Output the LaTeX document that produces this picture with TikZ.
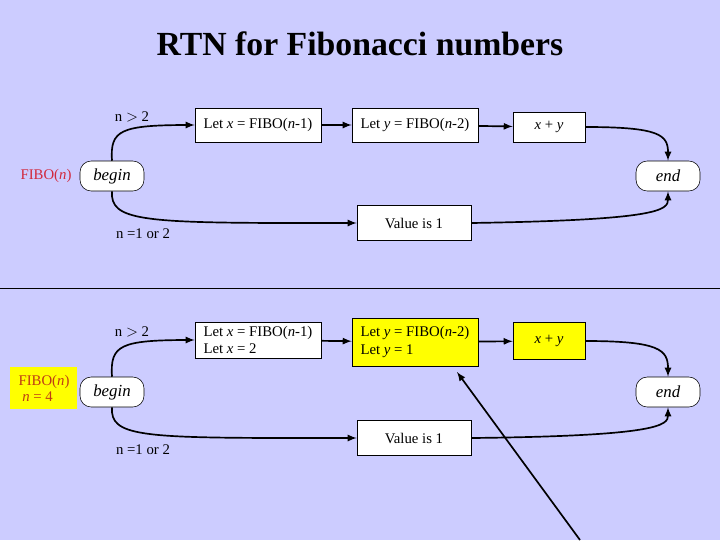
\documentclass[tikz,border=0pt]{standalone}
\usepackage{fontspec}
\setmainfont{Liberation Serif}
\usetikzlibrary{calc,shadows}
\definecolor{bgcol}{RGB}{204,204,255}
\definecolor{fibored}{RGB}{210,40,60}
\definecolor{fibodark}{RGB}{190,60,20}
\definecolor{hilite}{RGB}{255,255,0}
\newcommand{\vr}[1]{\textit{#1}}
\tikzset{
  box/.style={draw,fill=white,thin,minimum height=34*0.025cm,inner sep=2pt,font=\fontsize{10.5}{12.5}\selectfont,drop shadow={shadow xshift=0.6pt,shadow yshift=-0.6pt,opacity=0.6}},
  term/.style={draw,fill=white,rounded corners=8pt,minimum width=64*0.025cm,minimum height=30*0.025cm,font=\fontsize{12}{14}\selectfont\itshape},
  flow/.style={line width=1.2pt,-latex},
  lbl/.style={font=\fontsize{10.5}{12.5}\selectfont}
}
\begin{document}
\begin{tikzpicture}[x=0.025cm,y=-0.025cm]
\fill[bgcol](0,0) rectangle (720,540);
\useasboundingbox (0,0) rectangle (720,540);
\node[font=\fontsize{24}{27}\selectfont\bfseries] (title) at (360,44) {RTN for Fibonacci numbers};

% top: general rtn
\node[term] (begin1) at (112,176) {begin};
\node[text=fibored,lbl] (fibo1) at (46,176) {FIBO(\vr{n})};
\node[box,minimum width=126*0.025cm] (fa1) at (258,125) {Let \vr{x} = FIBO(\vr{n}-1)};
\node[box,minimum width=126*0.025cm] (fb1) at (415,125) {Let \vr{y} = FIBO(\vr{n}-2)};
\node[box,minimum width=72*0.025cm,minimum height=30*0.025cm] (sum1) at (549,127) {\vr{x} + \vr{y}};
\node[term] (end1) at (668,176) {end};
\node[box,minimum width=114*0.025cm,minimum height=35*0.025cm] (val1) at (414,223) {Value is 1};
\node[lbl] (gt1) at (132,117) {n $>$ 2};
\node[lbl] (eq1) at (143,234) {n =1 or 2};
\draw[flow](begin1.north) .. controls (110,130) and (120,125) .. (190,125) -- (fa1.west);
\draw[flow](begin1.south) .. controls (110,220) and (140,223) .. (300,223) -- (val1.west);
\draw[flow](fa1) -- (fb1);
\draw[flow](fb1) -- (sum1);
\draw[flow](sum1.east) .. controls (660,127) and (668,135) .. (end1.north);
\draw[flow](val1.east) .. controls (660,220) and (668,210) .. (end1.south);

\draw[thin](0,288) -- (720,288);

% bottom: n = 4
\fill[hilite](10,367) rectangle (77,409);
\node[term] (begin2) at (112,392) {begin};
\node[text=fibodark,lbl,align=left] (fibo2) at (44,388) {FIBO(\vr{n})\\[-1pt] \ \vr{n} = 4};
\node[box,minimum width=126*0.025cm,minimum height=36*0.025cm,align=left] (fa2) at (258,340) {Let \vr{x} = FIBO(\vr{n}-1)\\Let \vr{x} = 2};
\node[box,fill=hilite,minimum width=126*0.025cm,minimum height=48*0.025cm,align=left] (fb2) at (415,342) {Let \vr{y} = FIBO(\vr{n}-2)\\Let \vr{y} = 1};
\node[box,fill=hilite,minimum width=72*0.025cm,minimum height=37*0.025cm] (sum2) at (549,341) {\vr{x} + \vr{y}};
\node[term] (end2) at (668,392) {end};
\node[box,minimum width=114*0.025cm,minimum height=35*0.025cm] (val2) at (414,438) {Value is 1};
\node[lbl] (gt2) at (132,332) {n $>$ 2};
\node[lbl] (eq2) at (143,450) {n =1 or 2};
\draw[flow](begin2.north) .. controls (110,345) and (120,340) .. (190,340) -- (fa2.west);
\draw[flow](begin2.south) .. controls (110,436) and (140,438) .. (300,438) -- (val2.west);
\draw[flow](fa2) -- (fb2);
\draw[flow](fb2) -- (sum2);
\draw[flow](sum2.east) .. controls (660,341) and (668,350) .. (end2.north);
\draw[flow](val2.east) .. controls (660,436) and (668,425) .. (end2.south);

\coordinate (ptr) at (580,540);
\draw[line width=1.2pt,-latex](ptr) -- (457,372);
\end{tikzpicture}
\end{document}
